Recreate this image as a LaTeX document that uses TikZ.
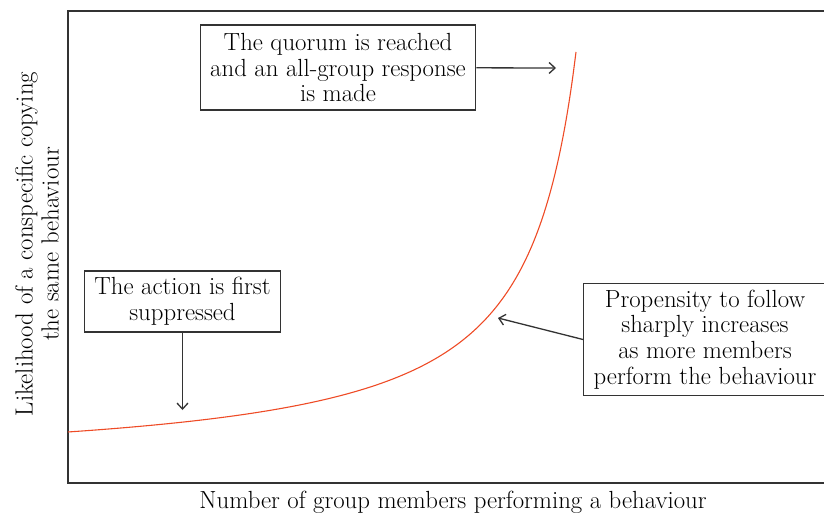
\documentclass[tikz,border=0pt]{standalone}
\usetikzlibrary{positioning,arrows.meta}

\definecolor{curvecol}{HTML}{EE4B26}
\definecolor{inkcol}{HTML}{333333}

\newcommand*{\xleft}{68}
\newcommand*{\xright}{824}
\newcommand*{\ytop}{11}
\newcommand*{\ybot}{483}

\begin{document}
\begin{tikzpicture}
[
	x=1pt, y=-1pt,
	note/.style={draw=inkcol,line width=1.3pt,fill=white,align=center,inner xsep=10pt,inner ysep=6.5pt,
		font=\fontsize{24.8}{25.8}\selectfont},
	pointer/.style={-{Straight Barb[length=6pt,width=11pt]},inkcol,line width=1.3pt},
	lbl/.style={align=center,font=\fontsize{24.8}{25.8}\selectfont}
]
	\useasboundingbox (0,0) rectangle (824,513);

	% axes
	\draw[inkcol,line width=1.5pt] (\xright,\ytop) -- (\xleft,\ytop) -- (\xleft,\ybot) -- (\xright,\ybot);

	% response curve, y = A - b/(T-x)
	\draw[curvecol,line width=1.1pt,domain=\xleft:576,samples=150,smooth] plot (\x,{470.2 - 213.69/((627.1-\x)/100)});

	% notes
	\node[note,minimum height=85pt] (quorum) at (338,67.5) {The quorum is reached\\and an all-group response\\is made};
	\coordinate (quorumtip) at (556,68);
	\draw[pointer] (quorum) -- (quorumtip);

	\node[note] (suppress) at (182.5,301.5) {The action is first\\suppressed};
	\coordinate (suppresstip) at (182.5,410);
	\draw[pointer] (suppress) -- (suppresstip);

	\node[note] (sharp) at (705,339.5) {Propensity to follow\\sharply increases\\as more members\\perform the behaviour};
	\coordinate (sharptip) at (498,318);
	\draw[pointer] (sharp.west) -- (sharptip);

	% axis labels
	\node[lbl,rotate=90] (ylab) at (37,244) {Likelihood of a conspecific copying\\the same behaviour};
	\node[lbl,anchor=base] (xlab) at (453,508) {Number of group members performing a behaviour};

\end{tikzpicture}
\end{document}
